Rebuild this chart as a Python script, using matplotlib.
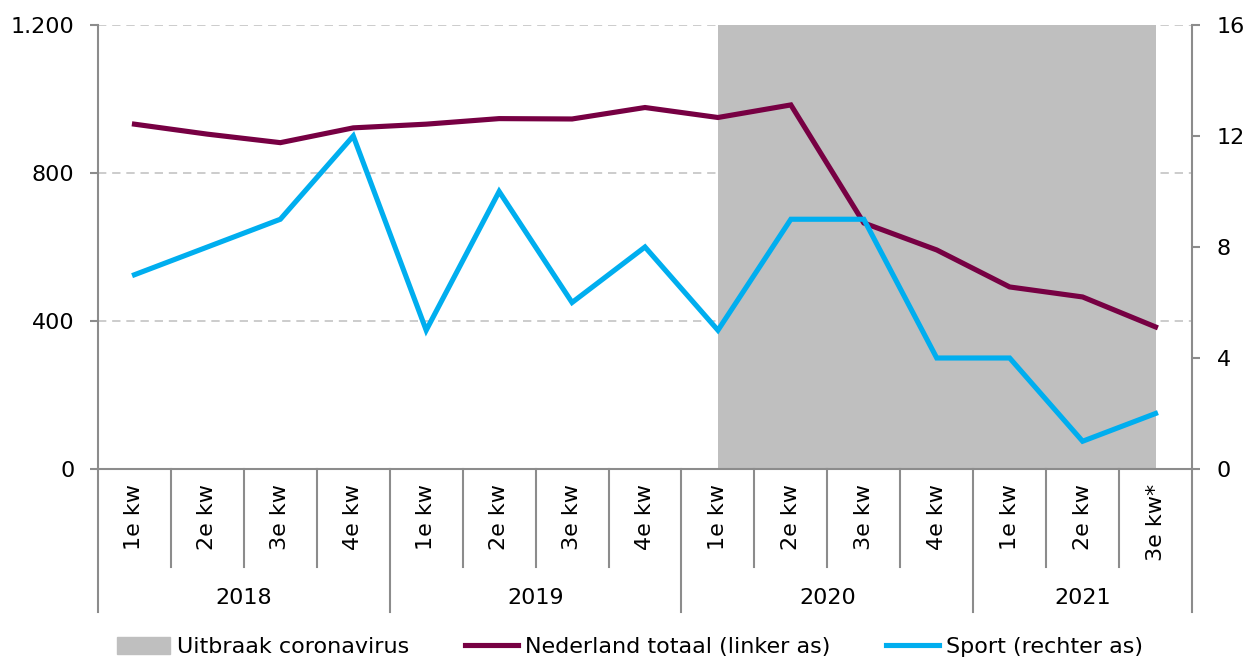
import numpy as np
import matplotlib.pyplot as plt
import matplotlib.patches as mpatches
from matplotlib.lines import Line2D
from matplotlib.ticker import FuncFormatter

plt.rcParams['font.family'] = ['DejaVu Sans']
plt.rcParams['font.size'] = 16

years = ['2018', '2019', '2020', '2021']
quarters = ['1e kw', '2e kw', '3e kw', '4e kw',
            '1e kw', '2e kw', '3e kw', '4e kw',
            '1e kw', '2e kw', '3e kw', '4e kw',
            '1e kw', '2e kw', '3e kw*']
quarters_per_year = [4, 4, 4, 3]
nederland = [932, 905, 882, 922, 932, 947, 946, 977, 950, 984, 665, 592, 492, 465, 384]
sport = [7, 8, 9, 12, 5, 10, 6, 8, 5, 9, 9, 4, 4, 1, 2]
corona_start, corona_end = 8, 14  # index range of the shaded period

maroon = '#770043'
blue = '#00AEEF'
grey_axis = '#8c8c8c'

W, H = 1247, 659
fig = plt.figure(figsize=(W / 100, H / 100), dpi=100)
ax = fig.add_axes([98 / W, (H - 469) / H, (1192 - 98) / W, (469 - 25) / H])
ax2 = ax.twinx()

x = np.arange(len(quarters))

ax.set_axisbelow(True)
ax.grid(axis='y', color='#c4c4c4', linestyle=(0, (5, 3.5)), linewidth=1.2)
ax.axvspan(corona_start, corona_end, color='#bfbfbf', zorder=1, linewidth=0)
ax.plot(x, nederland, color=maroon, linewidth=3.7, zorder=3, solid_joinstyle='miter')
ax2.plot(x, sport, color=blue, linewidth=3.7, zorder=3, solid_joinstyle='miter')

ax.set_xlim(-0.5, len(quarters) - 0.5)
ax.set_ylim(0, 1200)
ax.set_yticks([0, 400, 800, 1200])
ax.yaxis.set_major_formatter(FuncFormatter(lambda v, p: f'{int(v):,}'.replace(',', '.')))
ax2.set_ylim(0, 16)
ax2.set_yticks([0, 4, 8, 12, 16])

for a in (ax, ax2):
    for s in a.spines.values():
        s.set_color(grey_axis)
        s.set_linewidth(1.5)
    a.spines['top'].set_visible(False)
ax.spines['right'].set_visible(False)
ax2.spines['left'].set_visible(False)
ax2.spines['bottom'].set_visible(False)

ax.tick_params(axis='y', direction='out', length=6, width=1.5, color=grey_axis, pad=11)
ax2.tick_params(axis='y', direction='out', length=6, width=1.5, color=grey_axis, pad=12)
ax.set_xticks([])

# two-level category axis below the plot
trans = ax.get_xaxis_transform()
ah = 469 - 25
for i, q in enumerate(quarters):
    ax.text(i, -15 / ah, q, rotation=90, ha='center', va='top', transform=trans)
bounds = np.cumsum([0] + quarters_per_year) - 0.5
for b in np.arange(-0.5, len(quarters)):
    depth = 143 if b in bounds else 98
    ax.plot([b, b], [0, -depth / ah], color=grey_axis, linewidth=1.5,
            transform=trans, clip_on=False)
for yr, lo, hi in zip(years, bounds[:-1], bounds[1:]):
    ax.text((lo + hi) / 2, -129 / ah, yr, ha='center', va='center', transform=trans)

handles = [mpatches.Patch(color='#bfbfbf', label='Uitbraak coronavirus'),
           Line2D([], [], color=maroon, linewidth=3.7, label='Nederland totaal (linker as)'),
           Line2D([], [], color=blue, linewidth=3.7, label='Sport (rechter as)')]
fig.legend(handles=handles, loc='center', bbox_to_anchor=(0.505, 12 / H), ncol=3,
           frameon=False, handlelength=2.4, handleheight=0.8, handletextpad=0.3,
           columnspacing=2.5, borderaxespad=0)

fig.savefig('out.png', dpi=100)
